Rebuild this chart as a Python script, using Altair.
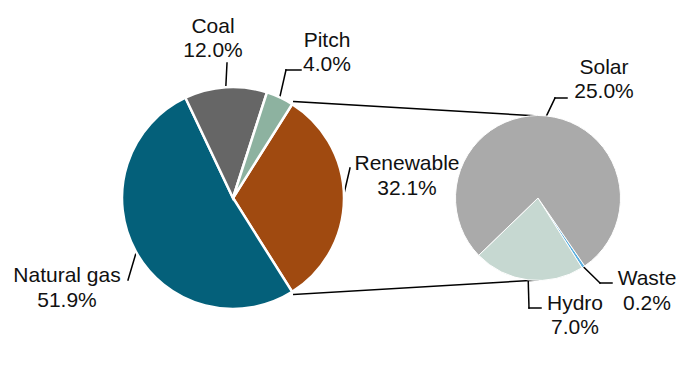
import math
import altair as alt
import pandas as pd

# ---- data ----
main_cats = ["Renewable", "Natural gas", "Coal", "Pitch"]
main_vals = [32.1, 51.9, 12.0, 4.0]
main_colors = ["#A04A10", "#04607A", "#666666", "#8DB2A0"]

sub_cats = ["Waste", "Hydro", "Solar"]
sub_vals = [0.2, 7.0, 25.0]
sub_colors = ["#5BB0E0", "#C6D8D1", "#AAAAAA"]

label_names = {"Renewable": "Renewable", "Natural gas": "Natural gas", "Coal": "Coal",
               "Pitch": "Pitch", "Waste": "Waste", "Hydro": "Hydro", "Solar": "Solar"}

# ---- layout ----
W, H = 692, 378
MAIN_C, MAIN_R = (233, 198), 110
SUB_C, SUB_R = (538, 198), 82
SPLIT = "Renewable"
split_share = main_vals[main_cats.index(SPLIT)] / sum(main_vals)
MAIN_START = 90 - split_share * 360 / 2   # split slice centred on the right
SUB_START = 145.5

# label anchor: (x centre, baseline of name, baseline of value)
label_pos = {
    "Coal": (213, 33, 57),
    "Pitch": (327, 47, 71),
    "Renewable": (407, 170, 195),
    "Natural gas": (67, 282, 307),
    "Solar": (604, 74, 98),
    "Waste": (647, 285, 310),
    "Hydro": (575, 310, 334),
}
leader_pts = {
    "Coal": [(227, 63)],
    "Pitch": [(286, 70), (301, 70)],
    "Renewable": [(350, 168)],
    "Natural gas": [(128, 280)],
    "Solar": [(555, 98), (567, 98)],
    "Waste": [(600, 283), (612, 283)],
    "Hydro": [(529, 308), (541, 308)],
}


def polar(c, r, deg):
    a = math.radians(deg)
    return (c[0] + r * math.sin(a), c[1] - r * math.cos(a))


def mid_angles(vals, start):
    tot = sum(vals)
    out, acc = [], 0.0
    for v in vals:
        a0 = start + acc / tot * 360
        acc += v
        a1 = start + acc / tot * 360
        out.append((a0, a1, (a0 + a1) / 2))
    return out


main_ang = mid_angles(main_vals, MAIN_START)
sub_ang = mid_angles(sub_vals, SUB_START)

main_df = pd.DataFrame({"cat": main_cats, "value": main_vals, "color": main_colors,
                        "order": list(range(len(main_cats)))})
sub_df = pd.DataFrame({"cat": sub_cats, "value": sub_vals, "color": sub_colors,
                       "order": list(range(len(sub_cats)))})

main_pie = alt.Chart(main_df).mark_arc(radius=MAIN_R + 1, stroke="white", strokeWidth=2.5).encode(
    theta=alt.Theta("value:Q", stack=True,
                    scale=alt.Scale(range=[math.radians(MAIN_START), math.radians(MAIN_START) + 2 * math.pi])),
    order=alt.Order("order:Q"),
    color=alt.Color("color:N", scale=None),
    x=alt.value(MAIN_C[0]), y=alt.value(MAIN_C[1]),
)
sub_pie = alt.Chart(sub_df).mark_arc(radius=SUB_R + 0.5, stroke="white", strokeWidth=1).encode(
    theta=alt.Theta("value:Q", stack=True,
                    scale=alt.Scale(range=[math.radians(SUB_START), math.radians(SUB_START) + 2 * math.pi])),
    order=alt.Order("order:Q"),
    color=alt.Color("color:N", scale=None),
    x=alt.value(SUB_C[0]), y=alt.value(SUB_C[1]),
)

# segments: connectors + leaders
segs = []
ia = main_cats.index(SPLIT)
a0, a1, _ = main_ang[ia]
p_top = polar(MAIN_C, MAIN_R + 4, a0)
p_bot = polar(MAIN_C, MAIN_R + 4, a1)
q_top = polar(SUB_C, SUB_R, 0)
q_bot = polar(SUB_C, SUB_R, 180)
segs.append((*p_top, *q_top))
segs.append((*p_bot, *q_bot))

texts = []
for cats, vals, angs, c, r in [(main_cats, main_vals, main_ang, MAIN_C, MAIN_R),
                               (sub_cats, sub_vals, sub_ang, SUB_C, SUB_R)]:
    for cat, v, (b0, b1, m) in zip(cats, vals, angs):
        pts = [polar(c, r, m)] + leader_pts[cat]
        for p, q in zip(pts[:-1], pts[1:]):
            segs.append((p[0], p[1], q[0], q[1]))
        lx, y1, y2 = label_pos[cat]
        texts.append({"x": lx, "y": y1, "t": label_names[cat]})
        texts.append({"x": lx, "y": y2, "t": f"{v:.1f}%"})

seg_df = pd.DataFrame(segs, columns=["x", "y", "x2", "y2"])
txt_df = pd.DataFrame(texts)

rules = alt.Chart(seg_df).mark_rule(color="black", strokeWidth=1.5, strokeCap="square").encode(
    x=alt.X("x:Q", scale=None, axis=None), y=alt.Y("y:Q", scale=None, axis=None),
    x2="x2:Q", y2="y2:Q",
)
labels = alt.Chart(txt_df).mark_text(font="Liberation Sans", fontSize=21, align="center",
                                     baseline="alphabetic", color="#111111").encode(
    x=alt.X("x:Q", scale=None, axis=None), y=alt.Y("y:Q", scale=None, axis=None),
    text="t:N",
)

chart = alt.layer(rules, main_pie, sub_pie, labels).resolve_scale(theta="independent").properties(
    width=W, height=H, padding=0, autosize=alt.AutoSizeParams(type="none"),
    background="white",
).configure_view(stroke=None)

chart.save("out.html", embed_options={"renderer": "svg", "actions": False})
